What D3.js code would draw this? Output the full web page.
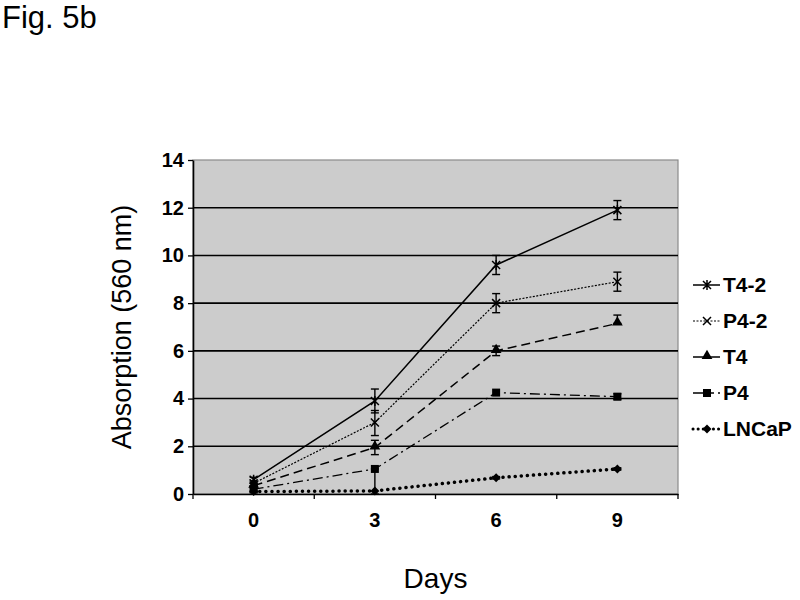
<!DOCTYPE html>
<html>
<head>
<meta charset="utf-8">
<script src="https://cdn.jsdelivr.net/npm/d3@7"></script>
<style>
  body { margin: 0; background: #fff; }
  svg { display: block; }
</style>
</head>
<body>
<div id="container"></div>
<script>
/* Données */
const days = ["0", "3", "6", "9"];
const seriesNames = ["T4-2", "P4-2", "T4", "P4", "LNCaP"];

const t42 = [0.6, 3.9, 9.6, 11.9];
const t42ErrUp = [0.1, 0.5, 0.4, 0.4];
const t42ErrDown = [0.1, 0.5, 0.4, 0.4];

const p42 = [0.45, 3.0, 8.0, 8.9];
const p42ErrUp = [0.1, 0.5, 0.4, 0.4];
const p42ErrDown = [0.1, 0.55, 0.4, 0.4];

const t4 = [0.35, 1.95, 6.0, 7.15];
const t4ErrUp = [0.1, 0.3, 0.2, 0.35];
const t4ErrDown = [0.1, 0.3, 0.2, 0.0];

const p4 = [0.2, 1.05, 4.25, 4.08];
const p4ErrUp = [0.1, 0.0, 0.0, 0.12];
const p4ErrDown = [0.1, 1.05, 0.0, 0.12];

const lncap = [0.1, 0.13, 0.68, 1.05];
const lncapErrUp = [0.05, 0.0, 0.05, 0.05];
const lncapErrDown = [0.05, 0.0, 0.05, 0.05];

const yTicks = [0, 2, 4, 6, 8, 10, 12, 14];

/* Mise en page */
const width = 800, height = 600;
const plotLeft = 193, plotRight = 678, plotTop = 160, plotBottom = 494;
const fontPolice = "'Liberation Sans', Arial, sans-serif";

const series = [
  {name: seriesNames[0], values: t42, up: t42ErrUp, down: t42ErrDown, dash: null, legendDash: null, lw: 1.5, marker: "star"},
  {name: seriesNames[1], values: p42, up: p42ErrUp, down: p42ErrDown, dash: "2,1.5", legendDash: "2,1.5", lw: 1.2, marker: "cross"},
  {name: seriesNames[2], values: t4, up: t4ErrUp, down: t4ErrDown, dash: "9,5", legendDash: null, lw: 1.5, marker: "triangle"},
  {name: seriesNames[3], values: p4, up: p4ErrUp, down: p4ErrDown, dash: "10,4,2,4", legendDash: "10,5,6,4", lw: 1.3, marker: "square"},
  {name: seriesNames[4], values: lncap, up: lncapErrUp, down: lncapErrDown, dash: "0.1,6", legendDash: "0.1,5", lw: 3.5, marker: "diamond", round: true}
];

const svg = d3.select("#container").append("svg")
  .attr("width", width)
  .attr("height", height);

const x = d3.scaleBand().domain(days).range([plotLeft, plotRight]);
const y = d3.scaleLinear().domain([0, 14]).range([plotBottom, plotTop]);
const cx = d => x(d) + x.bandwidth() / 2;

/* Titre de la figure */
svg.append("text")
  .attr("x", 2).attr("y", 28)
  .style("font-family", fontPolice)
  .style("font-size", "31px")
  .text("Fig. 5b");

/* Fond du graphe */
svg.append("rect")
  .attr("x", plotLeft).attr("y", plotTop)
  .attr("width", plotRight - plotLeft).attr("height", plotBottom - plotTop)
  .attr("fill", "#cccccc")
  .attr("stroke", "#8a8a8a")
  .attr("stroke-width", 1.2);

/* Lignes de grille */
svg.append("g").selectAll("line")
  .data(yTicks.filter(d => d > 0 && d < 14))
  .enter().append("line")
    .attr("x1", plotLeft).attr("x2", plotRight)
    .attr("y1", d => y(d)).attr("y2", d => y(d))
    .attr("stroke", "#000").attr("stroke-width", 1.6);

/* Axe Y */
const yAxis = svg.append("g")
  .attr("transform", "translate(" + plotLeft + ",0)")
  .call(d3.axisLeft(y).tickValues(yTicks).tickSize(5).tickPadding(4).tickSizeOuter(0));
yAxis.select(".domain").attr("stroke-width", 1.6);
yAxis.selectAll(".tick line").attr("stroke-width", 1.3);
yAxis.selectAll("text")
  .style("font-family", fontPolice)
  .style("font-size", "20px")
  .style("font-weight", "bold")
  .attr("fill", "#000");

/* Axe X */
const xAxis = svg.append("g")
  .attr("transform", "translate(0," + plotBottom + ")")
  .call(d3.axisBottom(x).tickSize(0).tickPadding(19));
xAxis.select(".domain").attr("stroke-width", 1.6);
xAxis.selectAll("text")
  .style("font-family", fontPolice)
  .style("font-size", "20px")
  .style("font-weight", "bold")
  .attr("fill", "#000");
/* Graduations entre les catégories */
svg.append("g").selectAll("line")
  .data(d3.range(days.length + 1))
  .enter().append("line")
    .attr("x1", i => plotLeft + i * x.step()).attr("x2", i => plotLeft + i * x.step())
    .attr("y1", plotBottom).attr("y2", plotBottom + 5)
    .attr("stroke", "#000").attr("stroke-width", 1.3);

/* Titres des axes */
svg.append("text")
  .attr("transform", "translate(131," + ((plotTop + plotBottom) / 2) + ") rotate(-90)")
  .style("text-anchor", "middle")
  .style("font-family", fontPolice)
  .style("font-size", "27px")
  .text("Absorption (560 nm)");

svg.append("text")
  .attr("x", (plotLeft + plotRight) / 2).attr("y", 588)
  .style("text-anchor", "middle")
  .style("font-family", fontPolice)
  .style("font-size", "28px")
  .text("Days");

/* Marqueurs */
function drawMarker(g, type, px, py) {
  const s = 4;
  if (type === "star") {
    g.append("path")
      .attr("d", "M" + (px - s) + "," + (py - s) + "L" + (px + s) + "," + (py + s) +
                 "M" + (px - s) + "," + (py + s) + "L" + (px + s) + "," + (py - s) +
                 "M" + px + "," + (py - s - 1) + "L" + px + "," + (py + s + 1))
      .attr("stroke", "#000").attr("stroke-width", 1.5).attr("fill", "none");
  } else if (type === "cross") {
    g.append("path")
      .attr("d", "M" + (px - s) + "," + (py - s) + "L" + (px + s) + "," + (py + s) +
                 "M" + (px - s) + "," + (py + s) + "L" + (px + s) + "," + (py - s))
      .attr("stroke", "#000").attr("stroke-width", 1.5).attr("fill", "none");
  } else if (type === "triangle") {
    g.append("path")
      .attr("d", d3.symbol().type(d3.symbolTriangle).size(50)())
      .attr("transform", "translate(" + px + "," + (py - 1) + ")")
      .attr("fill", "#000");
  } else if (type === "square") {
    g.append("rect")
      .attr("x", px - 4).attr("y", py - 4).attr("width", 8).attr("height", 8)
      .attr("fill", "#000");
  } else if (type === "diamond") {
    g.append("path")
      .attr("d", "M" + px + "," + (py - 4.5) + "L" + (px + 4.5) + "," + py +
                 "L" + px + "," + (py + 4.5) + "L" + (px - 4.5) + "," + py + "Z")
      .attr("fill", "#000");
  }
}

const line = d3.line()
  .x((d, i) => cx(days[i]))
  .y(d => y(d));

const plot = svg.append("g");

series.forEach(function(s) {
  const g = plot.append("g");
  g.append("path")
    .datum(s.values)
    .attr("d", line)
    .attr("fill", "none")
    .attr("stroke", "#000")
    .attr("stroke-width", s.lw)
    .attr("stroke-dasharray", s.dash)
    .attr("stroke-linecap", s.round ? "round" : "butt");

  /* Barres d'erreur */
  s.values.forEach(function(v, i) {
    const px = cx(days[i]);
    const top = y(v + s.up[i]), bottom = y(v - s.down[i]);
    if (top === bottom) return;
    g.append("line")
      .attr("x1", px).attr("x2", px).attr("y1", top).attr("y2", bottom)
      .attr("stroke", "#000").attr("stroke-width", 1.4);
    [top, bottom].forEach(function(yy) {
      g.append("line")
        .attr("x1", px - 4).attr("x2", px + 4).attr("y1", yy).attr("y2", yy)
        .attr("stroke", "#000").attr("stroke-width", 1.4);
    });
  });

  s.values.forEach(function(v, i) {
    drawMarker(g, s.marker, cx(days[i]), y(v));
  });
});

/* Légende */
const legendTop = 285, legendStep = 36;
series.forEach(function(s, i) {
  const ly = legendTop + i * legendStep;
  const g = svg.append("g");
  g.append("line")
    .attr("x1", 693).attr("x2", 720).attr("y1", ly).attr("y2", ly)
    .attr("stroke", "#000")
    .attr("stroke-width", s.round ? 3 : s.lw)
    .attr("stroke-dasharray", s.legendDash)
    .attr("stroke-linecap", s.round ? "round" : "butt");
  drawMarker(g, s.marker, 707, ly);
  g.append("text")
    .attr("x", 723).attr("y", ly + 7)
    .style("font-family", fontPolice)
    .style("font-size", "21px")
    .style("font-weight", "bold")
    .text(s.name);
});
</script>
</body>
</html>
